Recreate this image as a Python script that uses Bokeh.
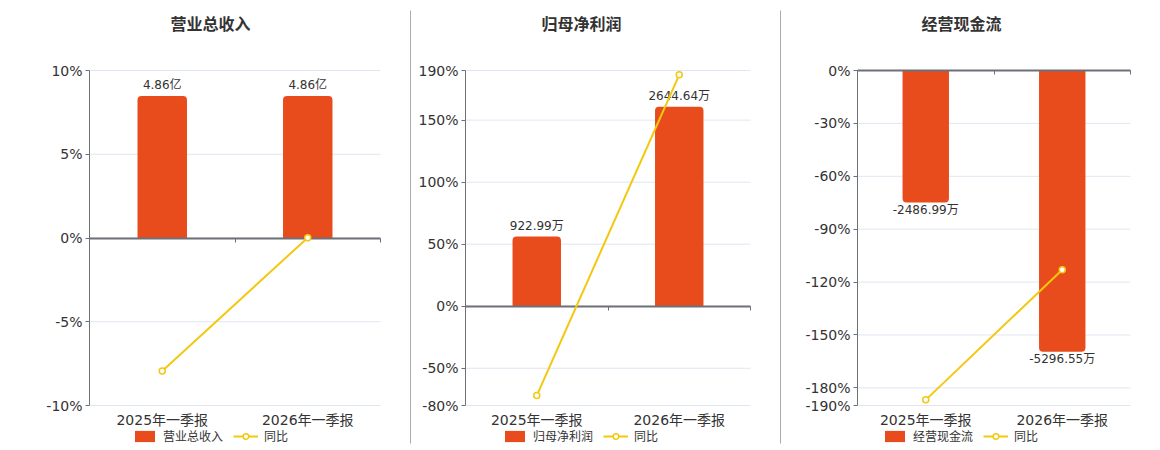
from bokeh.plotting import figure
from bokeh.models import (Range1d, LinearAxis, FixedTicker, PrintfTickFormatter,
                          Legend, LegendItem, ColumnDataSource)
from bokeh.embed import file_html
from bokeh.resources import INLINE
from bokeh.core.properties import value

# ---------------- data ----------------
categories = ["2025年一季报", "2026年一季报"]
titles = ["营业总收入", "归母净利润", "经营现金流"]
yoy_name = "同比"

revenue = [4.86, 4.86]                 # 亿
revenue_labels = ["4.86亿", "4.86亿"]
revenue_yoy = [-7.94, 0.02]            # %

profit = [922.99, 2644.64]             # 万
profit_labels = ["922.99万", "2644.64万"]
profit_yoy = [-72.0, 186.53]           # %

cashflow = [-2486.99, -5296.55]        # 万
cashflow_labels = ["-2486.99万", "-5296.55万"]
cashflow_yoy = [-186.8, -112.97]       # %

pct_ticks_1 = [-10, -5, 0, 5, 10]
pct_ticks_2 = [-80, -50, 0, 50, 100, 150, 190]
pct_ticks_3 = [-190, -180, -150, -120, -90, -60, -30, 0]

# ---------------- style / layout ----------------
W, H = 1152, 448
BAR = "#E84C1D"
LINE = "#F3C80F"
AXIS = "#6E7079"
GRID = "#E0E6F1"
TXT = "#333333"
SEP = "#ABABAB"
FONT = "DejaVu Sans, Noto Sans CJK SC"
CJK = "Noto Sans CJK SC"

PLOT_TOP, PLOT_BOTTOM = 70, 405          # canvas px of plot areas


def rng(va, pa, vb, pb, p_start, p_end):
    """Range whose value va sits at pixel pa and vb at pixel pb."""
    k = (vb - va) / (pb - pa)
    return Range1d(va + (p_start - pa) * k, va + (p_end - pa) * k)


p = figure(width=W, height=H, x_range=Range1d(0, W), y_range=Range1d(H, 0),
           x_axis_type=None, y_axis_type=None, toolbar_location=None,
           output_backend="svg", title=None, min_border=0)
p.outline_line_color = None
p.background_fill_color = "white"
p.border_fill_color = "white"

# panel layout: plot-area x px, title centre x, legend x, bar units per %
panels = [
    dict(title=titles[0], vals=revenue, labels=revenue_labels, yoy=revenue_yoy,
         ticks=pct_ticks_1, xl=89, xr=380, tx=210, lx=132, k=0.5731),
    dict(title=titles[1], vals=profit, labels=profit_labels, yoy=profit_yoy,
         ticks=pct_ticks_2, xl=465, xr=750, tx=581, lx=502, k=16.447),
    dict(title=titles[2], vals=cashflow, labels=cashflow_labels, yoy=cashflow_yoy,
         ticks=pct_ticks_3, xl=857, xr=1130, tx=961, lx=882, k=33.2),
]

n = len(categories)
xs = [i + 0.5 for i in range(n)]

for i, d in enumerate(panels):
    xn, yn, bn = "x%d" % i, "y%d" % i, "b%d" % i
    ymin, ymax = min(d["ticks"]), max(d["ticks"])
    p.extra_x_ranges[xn] = rng(0, d["xl"], n, d["xr"], 0, W)
    yr = rng(ymax, PLOT_TOP, ymin, PLOT_BOTTOM, H, 0)
    p.extra_y_ranges[yn] = yr
    p.extra_y_ranges[bn] = Range1d(yr.start * d["k"], yr.end * d["k"])

    # horizontal grid lines across the panel
    p.segment(x0=[0] * len(d["ticks"]), x1=[n] * len(d["ticks"]),
              y0=d["ticks"], y1=d["ticks"], x_range_name=xn, y_range_name=yn,
              line_color=GRID, line_width=1)

    src = ColumnDataSource(dict(x=xs, v=d["vals"], lab=d["labels"], yoy=d["yoy"]))
    pos = d["vals"][0] >= 0
    rad = (4, 4, 0, 0) if pos else (0, 0, 4, 4)
    bars = p.vbar(x="x", top="v", bottom=0, width=0.34, source=src,
                  x_range_name=xn, y_range_name=bn,
                  fill_color=BAR, line_color=None, border_radius=rad)
    p.text(x="x", y="v", text="lab", source=src, x_range_name=xn, y_range_name=bn,
           text_align="center", text_baseline="bottom" if pos else "top",
           y_offset=-4 if pos else 0,
           text_font=value(FONT), text_font_size="12px", text_color=TXT)

    # y axis
    yax = LinearAxis(x_range_name=xn, y_range_name=yn, fixed_location=0,
                     bounds=(ymin, ymax), ticker=FixedTicker(ticks=d["ticks"]),
                     formatter=PrintfTickFormatter(format="%d%%"),
                     axis_line_color=AXIS, major_tick_line_color=AXIS,
                     major_tick_out=4, major_tick_in=0, minor_tick_line_color=None,
                     major_label_text_font=FONT, major_label_text_font_size="14px",
                     major_label_text_color=TXT, major_label_standoff=3)
    p.add_layout(yax, "left")

    # category labels at the panel bottom
    xax = LinearAxis(x_range_name=xn, y_range_name=yn, fixed_location=ymin,
                     bounds=(0, n), ticker=FixedTicker(ticks=xs),
                     major_label_overrides={x: c for x, c in zip(xs, categories)},
                     axis_line_color=None, major_tick_line_color=None,
                     minor_tick_line_color=None, major_tick_out=0, major_tick_in=0,
                     major_label_text_font=FONT, major_label_text_font_size="14px",
                     major_label_text_color=TXT, major_label_standoff=6)
    p.add_layout(xax, "below")

    # zero line with boundary ticks
    bnds = list(range(n + 1))
    zax = LinearAxis(x_range_name=xn, y_range_name=yn, fixed_location=0,
                     bounds=(0, n), ticker=FixedTicker(ticks=bnds),
                     major_label_overrides={b: "" for b in bnds},
                     axis_line_color=AXIS, axis_line_width=2,
                     major_tick_line_color=AXIS, major_tick_out=4, major_tick_in=0,
                     minor_tick_line_color=None)
    p.add_layout(zax, "below")

    ln = p.line(x="x", y="yoy", source=src, x_range_name=xn, y_range_name=yn,
                line_color=LINE, line_width=2, level="overlay")
    mk = p.scatter(x="x", y="yoy", source=src, x_range_name=xn, y_range_name=yn,
                   size=6, fill_color="white", line_color=LINE, line_width=1.5,
                   level="overlay")

    # title
    p.text(x=[d["tx"]], y=[22], text=[d["title"]], text_align="center",
           text_baseline="middle", text_font=value(CJK), text_font_size="16px",
           text_font_style="bold", text_color=TXT)

    leg = Legend(items=[LegendItem(label=d["title"], renderers=[bars]),
                        LegendItem(label=yoy_name, renderers=[ln, mk])],
                 orientation="horizontal", location=(d["lx"], H - 444),
                 border_line_color=None, background_fill_alpha=0,
                 label_text_font=CJK, label_text_font_size="12px",
                 label_text_color=TXT, glyph_width=25, glyph_height=14,
                 label_height=14, label_standoff=6, spacing=10, padding=1, margin=0)
    p.add_layout(leg, "center")

# separators between panels
p.segment(x0=[410, 780], x1=[410, 780], y0=[10, 10], y1=[443, 443],
          line_color=SEP, line_width=1)

open("out.html", "w").write(file_html(p, INLINE))
